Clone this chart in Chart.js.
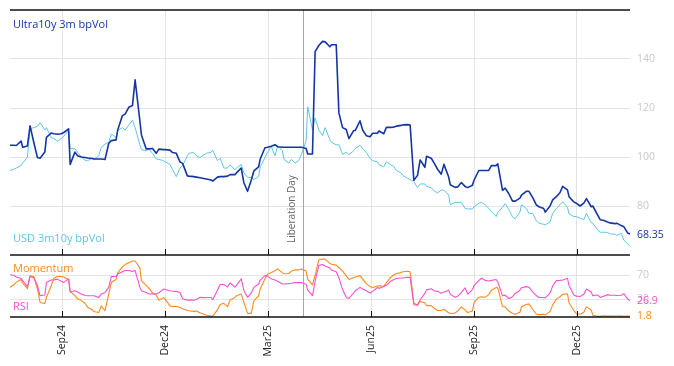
<!DOCTYPE html>
<html><head><meta charset="utf-8">
<script src="https://cdn.jsdelivr.net/npm/chart.js@4"></script>
<style>html,body{margin:0;padding:0;background:#fff;}canvas{display:block}</style>
</head><body>
<canvas id="c" width="674" height="366"></canvas>
<script>
// ---- data (sampled every 3 calendar days from START_DATE) ----
const START_DATE = '2024-07-17';
const STEP_DAYS = 3;

const ultra = [104.8,104.8,104.7,106.5,104,104.5,112.7,106,99.8,99.5,102,108,109.8,109.5,109.3,109.5,110,111.5,97,102,
100.5,100,99.8,99.6,99.4,99.2,99.2,99.2,99,105.5,106.7,107,111,116.9,117.5,120.3,121,131.5,114.8,109,
103.3,103.3,103.5,101.5,103.2,103,103,102.8,101.8,101.5,98,97.4,92.3,92.2,92,91.8,91.5,91.2,91,90.6,
90.2,91.8,92,92,92.2,92.8,92.8,93.5,95.5,89.5,86,90.5,94.3,96,99.2,103.8,104,104.4,105,104.2,
104,104,104,104,104,104,104,103.5,101.2,101.2,143,145.5,147.2,147,145,145.8,145.8,118,112,111.2,
107.5,110.8,110.8,114.8,111,108.7,108.3,109.7,109.7,110.6,109.5,112.1,112.1,112.2,112.6,112.9,113.1,113.2,113,90.5,
92.5,98.8,95.8,100.3,99.5,97.7,95,93,97,91.8,88.7,87.6,87.8,89.6,88,87.5,88.5,90.5,94.5,94.5,
94.5,94.5,96.5,96.5,97.2,86.4,87.3,85,82,82,83.2,84.4,86,86,83.5,80.5,79.7,79,77.5,80,
82.5,83.8,85.5,88,86.6,83.8,81.7,81.1,80,81.2,83,79.7,80,76.4,74.4,74.1,73.5,73.1,72.8,73,
72,71.5,69,68.35];

const usd = [94.5,95,95.5,96.5,97.5,100,111.5,112,112.5,114,111,112,108,107.5,106.5,107.5,108.5,110.8,103.5,103.3,
102,100,98.7,98.5,99.5,99,100.5,103.9,105.3,106,109.4,108,110.8,112,111,113,115,112,105,103,
102.5,103.3,101.5,99.2,99,98.5,98,97,94.8,92,95.5,96.5,100.5,101.5,101.8,100.5,99.8,100.8,101.5,101.9,
102.8,98.5,99.5,95.5,95.5,96.8,94.8,95.5,97,93.5,91.7,91.6,90.8,92,96,99.8,102,104.3,100.5,104.5,
102.5,99,97.5,99,97.5,98.5,101,106.7,120.5,111,116,111,108.7,112,107,106,105,105,101,102,
101,102.5,103.5,104.8,103.5,101.8,99.5,98.5,98,96.8,96,98,97,96.2,94.5,93.5,92.5,91.3,90.8,90,
87.5,89,89,88,87.5,86.2,85.3,86.5,86.5,84.5,80.5,81.5,81.5,81.5,79,78.8,78.8,79.7,81.1,81.5,
80.5,79.1,77.7,75.7,77.5,79.5,81,78.5,75.5,74.8,77.5,80.5,79,77,77,74,73,72.5,72.3,73.5,
77,79,80.5,81.7,79.5,76.8,75.7,75.7,75,74.4,77,73.2,73,70.3,69.3,69.3,69.2,68.6,68.5,68,
68.8,66,64.6,63];

const momentum = [50,54,58.5,63,57,47.5,69,68,47,24.4,22.7,33,52,65,68,68,67,62,43,36,
30.5,27.5,23,16.5,12,9.2,7.5,18.7,10.5,38.5,58.2,63,74,84,88,91,94,94,82.5,61,
53,48.5,40.5,37,28,32.5,30,18.7,17.5,18,15.9,14,11,10.5,9.5,10,7,4.6,3,1.5,
1.5,12,21,23,17.5,28.5,32.5,35.6,38.5,25,6,6,27.2,35.6,47,64,72,74.5,77.5,80.7,
74,72.5,73,77,79,79,80.7,77,63,54,70,96,97.2,97,90,88.5,87,83,77,69,
63,66,67,69.4,64,56,51,49.5,52,52.5,51.5,57.5,65.5,70.5,73,74.5,76,76.8,76,23,
20,26,24,19,19,15,11,11,13,7,5.8,6.5,10,17,12,7.5,10,24.5,32.8,34,
33,37.5,45,49.5,49,17.5,17,10,6,4.6,8,17,21,22,13,5,4,4.5,3.5,9,
20,30,34,38,39,24,11,5.5,4.5,8,17,12,3,1.1,1.1,2,1.5,1.5,1.7,1.7,
1.5,1.3,1.5,1.8];

const rsi = [71,70,67,64.5,61,51,68,66,53,35.6,37,58,62,62,63.5,60,58,64,42,44.1,
42,38.5,36,35.6,35.6,35.6,32.8,38.5,41.3,49.7,68,68,72,76,77.9,77.9,76.5,77.9,50,44,
41,38.5,39,38.5,40.5,46.9,46,44,43.3,43,41,30.5,28.3,28.5,28.3,29.5,33,32.5,32.8,32.8,
29,45,54.5,54.5,50.5,57,50,53,64,44.5,33,40,49.7,55.4,62,69.4,68.5,64,62,60,
55.4,55.4,56,56.5,57.6,57.6,58,55,45,36,60,86.8,87.9,85.5,82,79,76,66,46,33,
31,40.5,44,49.7,47,44,40,43,49.5,48,51,53,59,63,64.5,65.3,65.5,66.6,66,20.5,
20,29,40,45.5,47.5,44,43,40,42,45,38,33,35,41,49,38.5,46,52.5,61,65,
61.5,60.5,61.5,63,59,35.5,36.5,31,34,39.5,45,49,51,50,42,36,32.8,32.8,32,40,
52,61,61.5,62,65,53,37,35,34.5,38,47,42,35.6,37,32.8,35,37.5,36.5,36.5,36,
36.5,39,30,26.9];

const seriesNames = ['Ultra10y 3m bpVol','USD 3m10y bpVol','Momentum','RSI'];
const tickDates  = ['2024-09-02','2024-12-02','2025-03-03','2025-06-02','2025-09-01','2025-12-01'];
const tickLabels = ['Sep24','Dec24','Mar25','Jun25','Sep25','Dec25'];
const topTicks = [80,100,120,140];
const bottomTicks = [30,70];
const eventDate = '2025-04-02';
const eventLabel = 'Liberation Day';

// ---- helpers: business-day axis ----
const DAY = 86400000;
const T0 = Date.parse(START_DATE + 'T00:00:00Z');
function bday(iso){
  const t = Date.parse(iso + 'T00:00:00Z');
  let n = 0;
  for (let s = T0; s < t; s += DAY){ const w = new Date(s).getUTCDay(); if (w !== 0 && w !== 6) n++; }
  const w = new Date(t).getUTCDay();
  if (w === 6) n -= 0.67; else if (w === 0) n -= 0.33;
  return n;
}
const dates = ultra.map((_, i) => new Date(T0 + i * STEP_DAYS * DAY).toISOString().slice(0, 10));
const xs = dates.map(bday);
const pts = arr => arr.map((v, i) => ({x: xs[i], y: v}));

const C_ULTRA = '#1535a3', C_USD = '#5ec6e4', C_MOM = '#ff8a1c', C_RSI = '#f94fd4';
const FONT = 'Open Sans';

const overlay = {
  id: 'overlay',
  beforeDatasetsDraw(chart){
    const {ctx, chartArea: ca, scales} = chart;
    const lx = Math.round(scales.x.getPixelForValue(bday(eventDate))) + 0.5;
    ctx.save();
    ctx.strokeStyle = '#a8a8a8'; ctx.lineWidth = 1;
    ctx.beginPath(); ctx.moveTo(lx, ca.top); ctx.lineTo(lx, ca.bottom); ctx.stroke();
    ctx.translate(lx - 9, scales.yT.bottom - 12);
    ctx.rotate(-Math.PI / 2);
    ctx.fillStyle = '#666'; ctx.font = '10px "' + FONT + '"';
    ctx.textAlign = 'left'; ctx.textBaseline = 'alphabetic';
    ctx.fillText(eventLabel, 0, 0);
    ctx.restore();
  },
  afterDatasetsDraw(chart){
    const {ctx, chartArea: ca, scales} = chart;
    const yT = scales.yT, yB = scales.yB, x = scales.x;
    ctx.save();
    // panel borders
    ctx.strokeStyle = '#111'; ctx.lineWidth = 1.3;
    [yT.top, yB.top, yB.bottom].forEach(y => {
      ctx.beginPath(); ctx.moveTo(ca.left, y); ctx.lineTo(ca.right, y); ctx.stroke();
    });
    // inner tick marks
    ctx.lineWidth = 1;
    x.ticks.forEach(t => {
      const px = Math.round(x.getPixelForValue(t.value)) + 0.5;
      [yT.bottom, yB.bottom].forEach(y => {
        ctx.beginPath(); ctx.moveTo(px, y); ctx.lineTo(px, y - 6); ctx.stroke();
      });
    });
    // panel labels
    ctx.font = '11px "' + FONT + '"';
    ctx.textAlign = 'left'; ctx.textBaseline = 'alphabetic';
    const lab = (txt, col, px, py) => {
      const w = ctx.measureText(txt).width;
      ctx.fillStyle = 'rgba(255,255,255,0.6)';
      ctx.fillRect(px - 1, py - 10, w + 2, 13);
      ctx.fillStyle = col; ctx.fillText(txt, px, py);
    };
    lab(seriesNames[0], C_ULTRA, ca.left + 3, yT.top + 18);
    lab(seriesNames[1], C_USD, ca.left + 3, yT.bottom - 13);
    lab(seriesNames[2], C_MOM, ca.left + 3, yB.top + 17);
    lab(seriesNames[3], C_RSI, ca.left + 3, yB.bottom - 7);
    // last-value labels
    ctx.font = '10.5px "' + FONT + '"';
    ctx.textBaseline = 'middle';
    const last = (arr, sc, col) => {
      ctx.fillStyle = col;
      ctx.fillText(String(arr[arr.length - 1]), ca.right + 7, sc.getPixelForValue(arr[arr.length - 1]));
    };
    last(ultra, yT, C_ULTRA);
    last(rsi, yB, C_RSI);
    last(momentum, yB, C_MOM);
    ctx.restore();
  }
};

const yCommon = {
  position: 'right', stack: 'panels',
  grid: {color: '#e4e4e4', drawTicks: false},
  border: {display: false},
  ticks: {color: '#c8c8c8', padding: 7, font: {family: FONT, size: 10.5}},
  afterFit: s => { s.width = 44; s.paddingTop = 0; s.paddingBottom = 0; }
};

new Chart(document.getElementById('c'), {
  type: 'line',
  data: {
    datasets: [
      {label: seriesNames[0], data: pts(ultra), yAxisID: 'yT', borderColor: C_ULTRA, borderWidth: 1.6},
      {label: seriesNames[1], data: pts(usd), yAxisID: 'yT', borderColor: C_USD, borderWidth: 1},
      {label: seriesNames[3], data: pts(rsi), yAxisID: 'yB', borderColor: C_RSI, borderWidth: 1.1},
      {label: seriesNames[2], data: pts(momentum), yAxisID: 'yB', borderColor: C_MOM, borderWidth: 1.1}
    ]
  },
  options: {
    responsive: false, animation: false, devicePixelRatio: 1,
    layout: {padding: {top: 10, left: 10, right: 0, bottom: 0}},
    elements: {point: {radius: 0}, line: {tension: 0, borderJoinStyle: 'round'}},
    plugins: {legend: {display: false}, tooltip: {enabled: false}},
    scales: {
      x: {
        type: 'linear', min: 0, max: 391.5,
        afterBuildTicks: s => { s.ticks = tickDates.map(d => ({value: bday(d)})); },
        ticks: {callback: (v, i) => tickLabels[i], minRotation: 90, maxRotation: 90, autoSkip: false,
                padding: 8, color: '#222', font: {family: FONT, size: 10.5}},
        grid: {color: '#e4e4e4', drawTicks: false},
        border: {display: false},
        afterFit: s => { s.height = 49; s.paddingLeft = 0; s.paddingRight = 0; }
      },
      yT: Object.assign({}, yCommon, {
        stackWeight: 245, weight: 0, min: 60, max: 160,
        afterBuildTicks: s => { s.ticks = topTicks.map(v => ({value: v})); }
      }),
      yB: Object.assign({}, yCommon, {
        stackWeight: 62, weight: 1, min: 0, max: 104,
        afterBuildTicks: s => { s.ticks = bottomTicks.map(v => ({value: v})); }
      })
    }
  },
  plugins: [overlay]
});
</script>
</body></html>
